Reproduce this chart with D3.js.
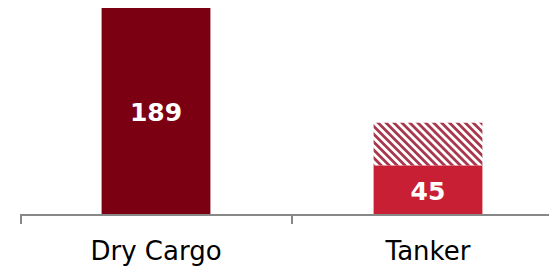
<!DOCTYPE html>
<html lang="en">
<head>
  <meta charset="UTF-8">
  <title>Dry Cargo vs Tanker</title>
  <script src="https://d3js.org/d3.v7.min.js"></script>
</head>
<style>
  body { margin: 0; background: white; }
  .label { font-family: "DejaVu Sans", Verdana, sans-serif; }
</style>
<body>
<svg id="chart" width="549" height="266"></svg>

<script>
  // chart data
  const categories = ["Dry Cargo", "Tanker"];
  const baseValues = [189, 45];
  const extraValues = [0, 39];
  const baseColors = ["#7a0012", "#c81f35"];

  let svg = d3.select("#chart");

  let x = d3.scaleBand()
          .domain(categories)
          .range([20, 564])
          .paddingInner(0.6)
          .paddingOuter(0.3);

  // axis band edges, ticks go between categories
  let xEdges = d3.scaleBand().domain(categories).range([20, 564]);

  let y = d3.scaleLinear()
          .domain([0, 189])
          .range([214.5, 8]);

  // hatch pattern for the upper part
  let pat = svg.append("defs").append("pattern")
          .attr("id", "hatch")
          .attr("patternUnits", "userSpaceOnUse")
          .attr("width", 5.6)
          .attr("height", 5.6)
          .attr("patternTransform", "rotate(-45)");
  pat.append("rect").attr("width", 5.6).attr("height", 5.6).attr("fill", "white");
  pat.append("rect").attr("x", 0).attr("width", 2.8).attr("height", 5.6).attr("fill", "#a8384e");

  // base bars
  svg.append("g").selectAll("rect")
          .data(categories).join("rect")
          .attr("x", d => x(d))
          .attr("width", x.bandwidth())
          .attr("y", (d, i) => y(baseValues[i]))
          .attr("height", (d, i) => y(0) - y(baseValues[i]))
          .attr("fill", (d, i) => baseColors[i]);

  // hatched bars stacked on top
  svg.append("g").selectAll("rect")
          .data(categories.filter((d, i) => extraValues[i] > 0)).join("rect")
          .attr("x", d => x(d))
          .attr("width", x.bandwidth())
          .attr("y", d => { let i = categories.indexOf(d); return y(baseValues[i] + extraValues[i]); })
          .attr("height", d => { let i = categories.indexOf(d); return y(baseValues[i]) - y(baseValues[i] + extraValues[i]); })
          .attr("fill", "url(#hatch)");

  // value labels inside bars
  svg.append("g").selectAll("text")
          .data(categories).join("text")
          .attr("class", "label")
          .attr("x", d => x(d) + x.bandwidth() / 2)
          .attr("y", (d, i) => y(baseValues[i] / 2) + 1)
          .attr("dy", "0.36em")
          .attr("text-anchor", "middle")
          .attr("fill", "white")
          .attr("font-weight", "bold")
          .attr("font-size", "25px")
          .text((d, i) => baseValues[i]);

  // x axis line and ticks
  let axis = svg.append("g").attr("stroke", "#888").attr("stroke-width", 2);
  axis.append("line")
          .attr("x1", 20).attr("x2", 564)
          .attr("y1", 215).attr("y2", 215);
  axis.selectAll(".tick")
          .data([20].concat(categories.map(d => xEdges(d) + xEdges.bandwidth())))
          .join("line")
          .attr("x1", d => d + (d == 20 ? 1 : 0)).attr("x2", d => d + (d == 20 ? 1 : 0))
          .attr("y1", 215).attr("y2", 224);

  // category labels
  svg.append("g").selectAll("text")
          .data(categories).join("text")
          .attr("class", "label")
          .attr("x", d => x(d) + x.bandwidth() / 2)
          .attr("y", 260)
          .attr("text-anchor", "middle")
          .attr("fill", "black")
          .attr("font-size", "26px")
          .text(d => d);
</script>
</body>
</html>
